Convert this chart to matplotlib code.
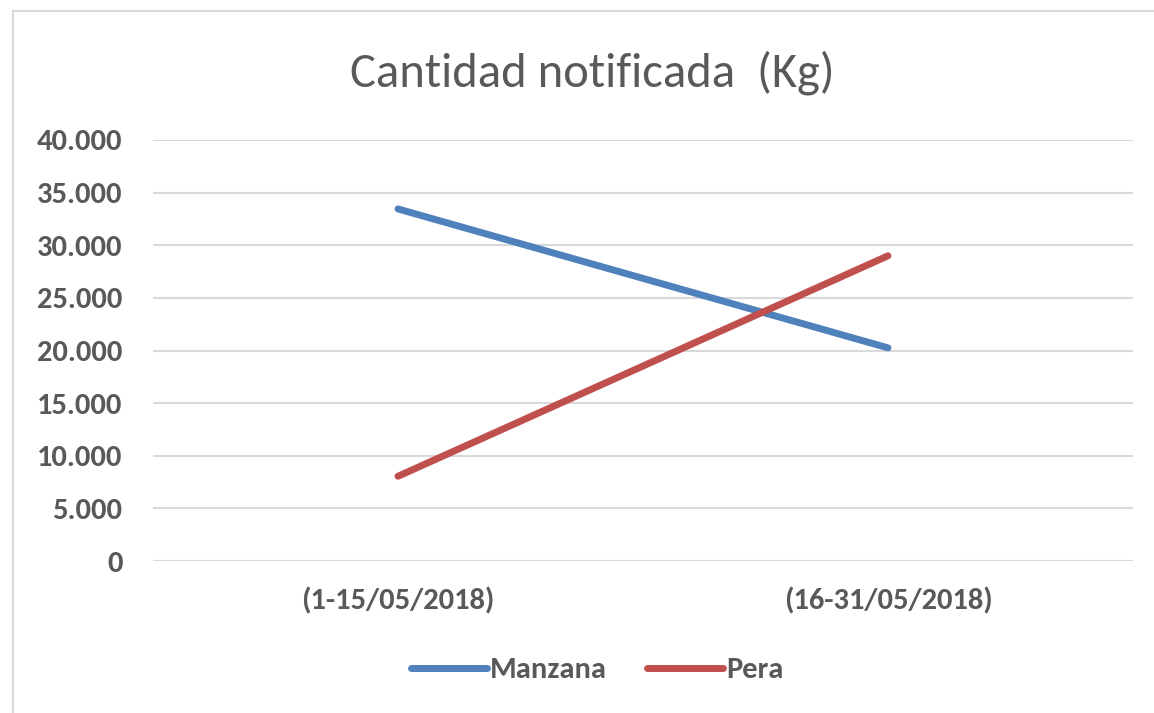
import matplotlib.pyplot as plt
from matplotlib.patches import Rectangle

plt.rcParams['font.family'] = ['Carlito', 'DejaVu Sans']

# Datos
periodos = ["(1-15/05/2018)", "(16-31/05/2018)"]
manzana = [33450, 20250]
pera = [8050, 29000]
yticks = [0, 5000, 10000, 15000, 20000, 25000, 30000, 35000, 40000]
ytick_labels = ["0", "5.000", "10.000", "15.000", "20.000", "25.000", "30.000", "35.000", "40.000"]

text_color = "#595959"
grid_color = "#d9d9d9"

fig = plt.figure(figsize=(11.54, 7.13), dpi=100)
fig.patches.append(Rectangle((13 / 1154, -0.1), 1.2, (713 - 11) / 713 + 0.1,
                             transform=fig.transFigure, fill=False,
                             edgecolor=grid_color, linewidth=1.5))

ax = fig.add_axes([153 / 1154, 152 / 713, 980 / 1154, 421 / 713])
x = range(len(periodos))
ax.plot(x, manzana, color="#4f81bd", linewidth=5, solid_capstyle="round", label="Manzana", zorder=3)
ax.plot(x, pera, color="#c0504d", linewidth=5, solid_capstyle="round", label="Pera", zorder=3)

ax.set_xlim(-0.5, 1.5)
ax.set_ylim(0, 40000)
ax.set_yticks(yticks)
ax.set_yticklabels(ytick_labels)
ax.set_xticks(list(x))
ax.set_xticklabels(periodos)
ax.grid(axis="y", color=grid_color, linewidth=1.5)
ax.set_axisbelow(True)
for s in ax.spines.values():
    s.set_visible(False)
ax.tick_params(length=0, labelsize=22, labelcolor=text_color)
ax.tick_params(axis="y", pad=22)
ax.tick_params(axis="x", pad=19)
for lab in ax.get_xticklabels() + ax.get_yticklabels():
    lab.set_fontweight("bold")

fig.text(0.513, 1 - 73 / 713, "Cantidad notificada  (Kg)", ha="center", va="center",
         fontsize=35, color=text_color)

leg = ax.legend(loc="center", bbox_to_anchor=(597 / 1154, 1 - 670 / 713), bbox_transform=fig.transFigure,
                ncol=2, frameon=False, handlelength=2.5, columnspacing=1.3, handletextpad=0.1,
                prop={"weight": "bold", "size": 22})
for t in leg.get_texts():
    t.set_color(text_color)

fig.savefig("out.png", dpi=100)
